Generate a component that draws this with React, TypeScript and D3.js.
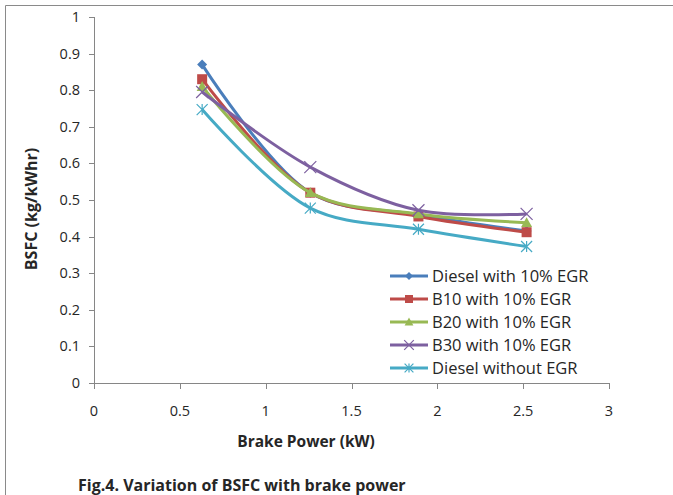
import React from "react";
import * as d3 from "d3";

const brakePower = [0.63, 1.26, 1.89, 2.52];
const dieselEGR = [0.87, 0.52, 0.46, 0.415];
const b10EGR = [0.83, 0.52, 0.455, 0.412];
const b20EGR = [0.81, 0.52, 0.462, 0.438];
const b30EGR = [0.795, 0.59, 0.472, 0.462];
const dieselNoEGR = [0.747, 0.478, 0.42, 0.373];
const seriesNames = ["Diesel with 10% EGR", "B10 with 10% EGR", "B20 with 10% EGR", "B30 with 10% EGR", "Diesel without EGR"];
const xTicks = [0, 0.5, 1, 1.5, 2, 2.5, 3];
const yTicks = [0, 0.1, 0.2, 0.3, 0.4, 0.5, 0.6, 0.7, 0.8, 0.9, 1];

const colors = ["#4A7EBB", "#BE4B48", "#98B954", "#7D60A0", "#46AAC5"];
const markers = ["diamond", "square", "triangle", "x", "star"];
const seriesValues = [dieselEGR, b10EGR, b20EGR, b30EGR, dieselNoEGR];

const FONT = "'Open Sans', 'Noto Sans', sans-serif";

function Marker({ type, x, y, color, s = 1 }: { type: string; x: number; y: number; color: string; s?: number }) {
  if (type === "diamond") {
    const r = 5 * s;
    return <path d={`M${x},${y - r}L${x + r},${y}L${x},${y + r}L${x - r},${y}Z`} fill={color} />;
  }
  if (type === "square") {
    const r = 5 * s;
    return <rect x={x - r} y={y - r} width={2 * r} height={2 * r} fill={color} />;
  }
  if (type === "triangle") {
    const r = 5.5 * s;
    return <path d={`M${x},${y - r}L${x + r},${y + r * 0.8}L${x - r},${y + r * 0.8}Z`} fill={color} />;
  }
  if (type === "x") {
    const r = 6 * s;
    return <path d={`M${x - r},${y - r}L${x + r},${y + r}M${x - r},${y + r}L${x + r},${y - r}`} stroke={color} strokeWidth={1.2} />;
  }
  const r = 5.5 * s;
  return (
    <path
      d={`M${x - r},${y - r}L${x + r},${y + r}M${x - r},${y + r}L${x + r},${y - r}M${x},${y - r}L${x},${y + r}`}
      stroke={color}
      strokeWidth={1.2}
    />
  );
}

export default function App() {
  const W = 673, H = 495;
  const x = d3.scaleLinear().domain([0, 3]).range([94, 609]);
  const y = d3.scaleLinear().domain([0, 1]).range([383, 17]);
  const line = d3
    .line<number>()
    .x((_, i) => x(brakePower[i]))
    .y((d) => y(d))
    .curve(d3.curveCatmullRom.alpha(0.5));

  const axisColor = "#868686";
  const textColor = "#262626";

  return (
    <svg width={W} height={H} style={{ position: "absolute", left: 0, top: 0, background: "#fff" }} fontFamily={FONT}>
      <rect x={0} y={0} width={W} height={H} fill="#fff" />
      <path d={`M5.5,${H}V5.5H${W}`} fill="none" stroke="#8a8a8a" strokeWidth={1} />

      {/* axes */}
      <line x1={94.5} x2={94.5} y1={y(1)} y2={y(0)} stroke={axisColor} />
      <line x1={94} x2={609.5} y1={383.5} y2={383.5} stroke={axisColor} />
      {yTicks.map((t) => (
        <g key={"y" + t}>
          <line x1={89} x2={94} y1={Math.round(y(t)) + 0.5} y2={Math.round(y(t)) + 0.5} stroke={axisColor} />
          <text x={80} y={y(t)} dy="0.35em" textAnchor="end" fontSize={14.5} fill={textColor}>
            {t}
          </text>
        </g>
      ))}
      {xTicks.map((t) => (
        <g key={"x" + t}>
          <line x1={Math.round(x(t)) + 0.5} x2={Math.round(x(t)) + 0.5} y1={383} y2={389} stroke={axisColor} />
          <text x={x(t)} y={416} textAnchor="middle" fontSize={14.5} fill={textColor}>
            {t}
          </text>
        </g>
      ))}

      <text x={306} y={447} textAnchor="middle" fontSize={15.5} fontWeight="bold" fill={textColor}>
        Brake Power (kW)
      </text>
      <text transform="translate(37,209) rotate(-90)" textAnchor="middle" fontSize={16} fontWeight="bold" fill={textColor}>
        BSFC (kg/kWhr)
      </text>

      {/* series */}
      {seriesValues.map((vals, si) => (
        <g key={"s" + si}>
          <path d={line(vals) || ""} fill="none" stroke={colors[si]} strokeWidth={3} />
          {vals.map((v, i) => (
            <Marker key={i} type={markers[si]} x={x(brakePower[i])} y={y(v)} color={colors[si]} />
          ))}
        </g>
      ))}

      {/* legend */}
      {seriesNames.map((name, i) => {
        const ly = 276 + i * 23;
        return (
          <g key={"l" + i}>
            <line x1={390} x2={428} y1={ly} y2={ly} stroke={colors[i]} strokeWidth={3} />
            <Marker type={markers[i]} x={409} y={ly} color={colors[i]} s={0.8} />
            <text x={432} y={ly} dy="0.36em" fontSize={16.5} fill={textColor}>
              {name}
            </text>
          </g>
        );
      })}

      <text x={78} y={491} fontSize={16} fontWeight="bold" fill={textColor}>
        Fig.4. Variation of BSFC with brake power
      </text>
    </svg>
  );
}
